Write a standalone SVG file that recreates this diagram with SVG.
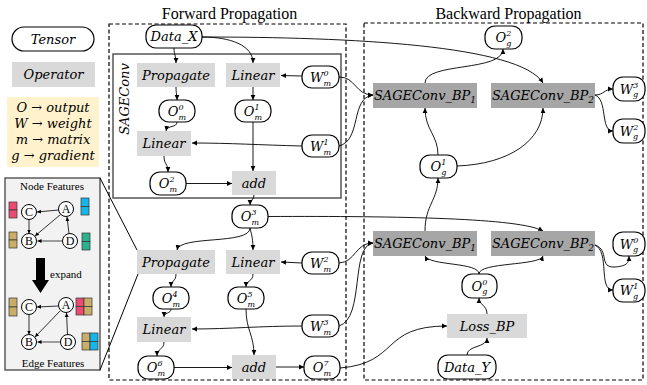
<svg xmlns="http://www.w3.org/2000/svg" width="647" height="385" viewBox="0 0 647 385">
<defs>
<marker id="ar" markerWidth="6" markerHeight="6" refX="5" refY="3" orient="auto" markerUnits="userSpaceOnUse"><path d="M0,0.6 L5,3 L0,5.4z" fill="#000"/></marker>
<marker id="as" markerWidth="5" markerHeight="5" refX="4" refY="2.5" orient="auto" markerUnits="userSpaceOnUse"><path d="M0,0.5 L4,2.5 L0,4.5z" fill="#000"/></marker>
</defs>
<style>
.tn{fill:#fff;stroke:#000;stroke-width:1.2}
.op{fill:#d9d9d9}
.bp{fill:#a6a6a6}
.m{font-family:"DejaVu Serif",serif;font-style:italic;font-size:13px;text-anchor:middle;fill:#000}
.s{font-size:8px}
.c{fill:none;stroke:#000;stroke-width:0.9;marker-end:url(#ar)}
.ttl{font-family:"Liberation Serif",serif;font-size:16px;text-anchor:middle}
.g{fill:none;stroke:#000;stroke-width:0.8;marker-end:url(#as)}
.cir{fill:#fff;stroke:#000;stroke-width:1}
.lt{font-family:"Liberation Serif",serif;font-size:11px;text-anchor:middle}
.ct{font-family:"Liberation Serif",serif;font-size:12px;text-anchor:middle}
.box{fill:none;stroke:#000;stroke-width:1.2;stroke-dasharray:4 2.5}
</style>

<!-- Legend -->
<g id="legend">
<rect x="12" y="27" width="82" height="24" rx="12" class="tn"/>
<text class="m" x="53" y="43.5" font-size="12">Tensor</text>
<rect x="12" y="62" width="83" height="25" class="op"/>
<text class="m" x="53.5" y="79">Operator</text>
<rect x="7" y="97" width="92" height="70" fill="#fff2cc"/>
<text class="m" x="53" y="112" font-size="12">O → output</text>
<text class="m" x="53" y="128" font-size="12">W  → weight</text>
<text class="m" x="53" y="144" font-size="12">m → matrix</text>
<text class="m" x="53" y="160" font-size="12">g → gradient</text>
</g>

<!-- Node features illustration -->
<g id="features">
<rect x="5" y="178" width="95" height="192" fill="#f2f2f2" stroke="#444" stroke-width="1.3"/>
<line x1="100" y1="178" x2="137" y2="250" stroke="#000" stroke-width="1"/>
<line x1="138" y1="274" x2="100" y2="370" stroke="#000" stroke-width="1"/>
<text class="lt" x="52" y="190">Node Features</text>
<text class="lt" x="53" y="367">Edge Features</text>
<text class="lt" x="66" y="278">expand</text>
<polygon points="36,258 45,258 45,280 49,280 40.5,293 32,280 36,280" fill="#000"/>
<path class="g" d="M58.5,210 L37,212"/>
<path class="g" d="M29,219.5 L29,233.5"/>
<path class="g" d="M60.5,214.5 L35,236"/>
<path d="M62.5,241 L37.5,241" fill="none" stroke="#888" stroke-width="1.6" marker-end="url(#as)"/>
<path class="g" d="M69,233.5 L67,217"/>
<circle cx="29" cy="212" r="7.5" class="cir"/><text class="ct" x="29" y="216.2">C</text>
<circle cx="66" cy="209" r="7.5" class="cir"/><text class="ct" x="66" y="213.2">A</text>
<circle cx="29" cy="241" r="7.5" class="cir"/><text class="ct" x="29" y="245.2">B</text>
<circle cx="70" cy="241" r="7.5" class="cir"/><text class="ct" x="70" y="245.2">D</text>
<rect x="9" y="202" width="8" height="8" fill="#ea4c74" stroke="#333" stroke-width="0.7"/>
<rect x="9" y="210" width="8" height="8" fill="#ea4c74" stroke="#333" stroke-width="0.7"/>
<rect x="81" y="198" width="8" height="8.5" fill="#17b6e8" stroke="#333" stroke-width="0.7"/>
<rect x="81" y="206.5" width="8" height="8.5" fill="#17b6e8" stroke="#333" stroke-width="0.7"/>
<rect x="9" y="232" width="8" height="8" fill="#c9ad68" stroke="#333" stroke-width="0.7"/>
<rect x="9" y="240" width="8" height="8" fill="#c9ad68" stroke="#333" stroke-width="0.7"/>
<rect x="82" y="233" width="8" height="8.5" fill="#2db28e" stroke="#333" stroke-width="0.7"/>
<rect x="82" y="241.5" width="8" height="8.5" fill="#2db28e" stroke="#333" stroke-width="0.7"/>
<path class="g" d="M58.5,306 L37,307"/>
<path class="g" d="M29,314.5 L29,334.5"/>
<path class="g" d="M60.5,310.5 L35,337"/>
<path d="M60.5,342 L37.5,342" fill="none" stroke="#888" stroke-width="1.6" marker-end="url(#as)"/>
<path class="g" d="M67.5,334.5 L66.5,313"/>
<circle cx="29" cy="307" r="7.5" class="cir"/><text class="ct" x="29" y="311.2">C</text>
<circle cx="66" cy="305" r="7.5" class="cir"/><text class="ct" x="66" y="309.2">A</text>
<circle cx="29" cy="342" r="7.5" class="cir"/><text class="ct" x="29" y="346.2">B</text>
<circle cx="68" cy="342" r="7.5" class="cir"/><text class="ct" x="68" y="346.2">D</text>
<rect x="9" y="298" width="8" height="9" fill="#c9ad68" stroke="#333" stroke-width="0.7"/>
<rect x="9" y="307" width="8" height="9" fill="#c9ad68" stroke="#333" stroke-width="0.7"/>
<rect x="76" y="298" width="8" height="8.5" fill="#ea4c74" stroke="#333" stroke-width="0.7"/>
<rect x="84" y="298" width="8" height="8.5" fill="#c9ad68" stroke="#333" stroke-width="0.7"/>
<rect x="76" y="306.5" width="8" height="8.5" fill="#ea4c74" stroke="#333" stroke-width="0.7"/>
<rect x="84" y="306.5" width="8" height="8.5" fill="#c9ad68" stroke="#333" stroke-width="0.7"/>
<rect x="82" y="333" width="8" height="8.5" fill="#c9ad68" stroke="#333" stroke-width="0.7"/>
<rect x="90" y="333" width="8" height="8.5" fill="#17b6e8" stroke="#333" stroke-width="0.7"/>
<rect x="82" y="341.5" width="8" height="8.5" fill="#c9ad68" stroke="#333" stroke-width="0.7"/>
<rect x="90" y="341.5" width="8" height="8.5" fill="#17b6e8" stroke="#333" stroke-width="0.7"/>
</g>

<!-- Frames -->
<g id="frames">
<text class="ttl" x="229.5" y="19">Forward Propagation</text>
<text class="ttl" x="508.5" y="19">Backward Propagation</text>
<rect x="109" y="24" width="237" height="356" class="box"/>
<rect x="364" y="23" width="279" height="357" class="box"/>
<rect x="113" y="54" width="228" height="144" fill="none" stroke="#555" stroke-width="1.5"/>
<text class="m" font-size="13.5" transform="translate(129,99) rotate(-90)">SAGEConv</text>
</g>

<!-- Connectors -->
<g id="connectors">
<path class="c" d="M174,48 C174,55 176,55 176,63"/>
<path class="c" d="M202,37 C230,37 253,45 253,63"/>
<path class="c" stroke="#333" d="M202,37 C350,37 520,45 543,83"/>
<path class="c" d="M176,87 C176,94 177,94 177,100"/>
<path class="c" d="M253,87 L253,100"/>
<path class="c" d="M302,76 L281,75.5"/>
<path class="c" d="M177,122 C177,128 167,125 166,131"/>
<path class="c" d="M253,122 L253,171"/>
<path class="c" d="M302,146 C260,145 230,143 192,143"/>
<path class="c" d="M164,156 C164,165 168,163 168,172"/>
<path class="c" d="M186,183.5 L232,183.5"/>
<path class="c" d="M254,195 C254,200 250,200 250,205"/>
<path class="c" stroke="#444" d="M268,216.5 C400,216 520,218 543,231"/>
<path class="c" d="M250,228 C250,245 180,235 177,250"/>
<path class="c" d="M250,228 C252,236 253,240 253,250"/>
<path class="c" d="M302,263 L281,262"/>
<path class="c" d="M176,274 C176,282 171,280 171,287"/>
<path class="c" d="M253,274 C253,282 246,280 246,287"/>
<path class="c" d="M171,309 C171,314 164,312 164,317"/>
<path class="c" d="M302,326 C260,326 230,329 192,329"/>
<path class="c" d="M164,342 C164,350 157,348 157,356"/>
<path class="c" d="M174,367.5 L232,367.5"/>
<path class="c" d="M246,309 C246,330 254,335 254,355"/>
<path class="c" d="M276,367 L304,367"/>
<path class="c" d="M340,368 C400,363 380,326 447,326"/>
<path class="c" d="M339,77 C356,77 355,95 373,95"/>
<path class="c" d="M339,146 C362,140 350,98 373,95"/>
<path class="c" d="M339,263 C356,262 355,243 373,243"/>
<path class="c" d="M339,326 C365,318 350,246 373,243"/>
<path class="c" d="M425,83 C425,62 503,72 503,49"/>
<path class="c" d="M438,155 C438,135 425,130 425,108"/>
<path class="c" d="M457,166 C510,164 543,140 543,108"/>
<path class="c" d="M595,95 C604,95 604,89 613,89"/>
<path class="c" d="M595,95 C608,100 600,131 613,131"/>
<path class="c" d="M425,231 C425,205 438,200 438,178"/>
<path class="c" d="M479,274 C479,262 430,266 425,256"/>
<path class="c" d="M479,274 C479,262 540,266 543,256"/>
<path class="c" d="M595,245 C610,250 598,268 615,267 C628,266 629,262 629,256"/>
<path class="c" d="M595,245 C610,252 598,290 613,290"/>
<path class="c" d="M487,314 C487,305 479,305 479,298"/>
<path class="c" d="M467,355 C467,345 487,348 487,338"/>
</g>

<!-- Forward nodes -->
<g id="data_x"><rect x="146" y="25" width="56" height="23" rx="10" class="tn"/><text class="m" x="174" y="41" font-size="12.5">Data_X</text></g>
<g id="propagate1"><rect x="137" y="63" width="78" height="24" class="op"/><text class="m" x="176" y="79.5">Propagate</text></g>
<g id="linear1"><rect x="226" y="63" width="54" height="24" class="op"/><text class="m" x="253" y="79.5">Linear</text></g>
<g id="w_m0"><rect x="302" y="66" width="37" height="22" rx="10" class="tn"/><text class="m" x="320.5" y="81.5">W<tspan class="s" dy="-6">0</tspan><tspan class="s" dx="-5.1" dy="10">m</tspan></text></g>
<g id="o_m0"><rect x="159" y="100" width="36" height="22" rx="10" class="tn"/><text class="m" x="177" y="115.5">O<tspan class="s" dy="-6">0</tspan><tspan class="s" dx="-5.1" dy="10">m</tspan></text></g>
<g id="o_m1"><rect x="235" y="100" width="36" height="22" rx="10" class="tn"/><text class="m" x="253" y="115.5">O<tspan class="s" dy="-6">1</tspan><tspan class="s" dx="-5.1" dy="10">m</tspan></text></g>
<g id="linear2"><rect x="137" y="131" width="54" height="25" class="op"/><text class="m" x="164" y="148">Linear</text></g>
<g id="w_m1"><rect x="302" y="135" width="37" height="22" rx="10" class="tn"/><text class="m" x="320.5" y="150.5">W<tspan class="s" dy="-6">1</tspan><tspan class="s" dx="-5.1" dy="10">m</tspan></text></g>
<g id="o_m2"><rect x="150" y="172" width="36" height="23" rx="10" class="tn"/><text class="m" x="168" y="188">O<tspan class="s" dy="-6">2</tspan><tspan class="s" dx="-5.1" dy="10">m</tspan></text></g>
<g id="add1"><rect x="232" y="171" width="44" height="24" class="op"/><text class="m" x="254" y="187.5">add</text></g>
<g id="o_m3"><rect x="232" y="205" width="36" height="23" rx="10" class="tn"/><text class="m" x="250" y="221">O<tspan class="s" dy="-6">3</tspan><tspan class="s" dx="-5.1" dy="10">m</tspan></text></g>
<g id="propagate2"><rect x="137" y="250" width="78" height="24" class="op"/><text class="m" x="176" y="266.5">Propagate</text></g>
<g id="linear3"><rect x="226" y="250" width="54" height="24" class="op"/><text class="m" x="253" y="266.5">Linear</text></g>
<g id="w_m2"><rect x="302" y="252" width="37" height="22" rx="10" class="tn"/><text class="m" x="320.5" y="267.5">W<tspan class="s" dy="-6">2</tspan><tspan class="s" dx="-5.1" dy="10">m</tspan></text></g>
<g id="o_m4"><rect x="153" y="287" width="36" height="22" rx="10" class="tn"/><text class="m" x="171" y="302.5">O<tspan class="s" dy="-6">4</tspan><tspan class="s" dx="-5.1" dy="10">m</tspan></text></g>
<g id="o_m5"><rect x="228" y="287" width="36" height="22" rx="10" class="tn"/><text class="m" x="246" y="302.5">O<tspan class="s" dy="-6">5</tspan><tspan class="s" dx="-5.1" dy="10">m</tspan></text></g>
<g id="linear4"><rect x="137" y="317" width="54" height="25" class="op"/><text class="m" x="164" y="334">Linear</text></g>
<g id="w_m3"><rect x="302" y="315" width="37" height="22" rx="10" class="tn"/><text class="m" x="320.5" y="330.5">W<tspan class="s" dy="-6">3</tspan><tspan class="s" dx="-5.1" dy="10">m</tspan></text></g>
<g id="o_m6"><rect x="138" y="356" width="36" height="23" rx="10" class="tn"/><text class="m" x="156" y="372">O<tspan class="s" dy="-6">6</tspan><tspan class="s" dx="-5.1" dy="10">m</tspan></text></g>
<g id="add2"><rect x="232" y="355" width="44" height="24" class="op"/><text class="m" x="254" y="371.5">add</text></g>
<g id="o_m7"><rect x="304" y="356" width="36" height="23" rx="10" class="tn"/><text class="m" x="322" y="372">O<tspan class="s" dy="-6">7</tspan><tspan class="s" dx="-5.1" dy="10">m</tspan></text></g>

<!-- Backward nodes -->
<g id="o_g2"><rect x="485" y="26" width="37" height="23" rx="10" class="tn"/><text class="m" x="503.5" y="42">O<tspan class="s" dy="-6">2</tspan><tspan class="s" dx="-5.1" dy="9.5">g</tspan></text></g>
<g id="bp1a"><rect x="373" y="83" width="104" height="25" class="bp"/><text class="m" x="425" y="100">SAGEConv_BP<tspan font-size="9" dy="3">1</tspan></text></g>
<g id="bp2a"><rect x="491" y="83" width="104" height="25" class="bp"/><text class="m" x="543" y="100">SAGEConv_BP<tspan font-size="9" dy="3">2</tspan></text></g>
<g id="w_g3"><rect x="613" y="77" width="32" height="24" rx="10" class="tn"/><text class="m" x="629" y="93.5">W<tspan class="s" dy="-6">3</tspan><tspan class="s" dx="-5.1" dy="9.5">g</tspan></text></g>
<g id="w_g2"><rect x="613" y="119" width="32" height="24" rx="10" class="tn"/><text class="m" x="629" y="135.5">W<tspan class="s" dy="-6">2</tspan><tspan class="s" dx="-5.1" dy="9.5">g</tspan></text></g>
<g id="o_g1"><rect x="420" y="155" width="37" height="23" rx="10" class="tn"/><text class="m" x="438.5" y="171">O<tspan class="s" dy="-6">1</tspan><tspan class="s" dx="-5.1" dy="9.5">g</tspan></text></g>
<g id="bp1b"><rect x="373" y="231" width="104" height="25" class="bp"/><text class="m" x="425" y="248">SAGEConv_BP<tspan font-size="9" dy="3">1</tspan></text></g>
<g id="bp2b"><rect x="491" y="231" width="104" height="25" class="bp"/><text class="m" x="543" y="248">SAGEConv_BP<tspan font-size="9" dy="3">2</tspan></text></g>
<g id="w_g0"><rect x="613" y="232" width="32" height="24" rx="10" class="tn"/><text class="m" x="629" y="248.5">W<tspan class="s" dy="-6">0</tspan><tspan class="s" dx="-5.1" dy="9.5">g</tspan></text></g>
<g id="w_g1"><rect x="613" y="279" width="32" height="23" rx="10" class="tn"/><text class="m" x="629" y="295">W<tspan class="s" dy="-6">1</tspan><tspan class="s" dx="-5.1" dy="9.5">g</tspan></text></g>
<g id="o_g0"><rect x="462" y="274" width="35" height="24" rx="10" class="tn"/><text class="m" x="479.5" y="290.5">O<tspan class="s" dy="-6">0</tspan><tspan class="s" dx="-5.1" dy="9.5">g</tspan></text></g>
<g id="loss_bp"><rect x="447" y="314" width="80" height="24" class="op"/><text class="m" x="487" y="330.5">Loss_BP</text></g>
<g id="data_y"><rect x="438" y="355" width="58" height="24" rx="10" class="tn"/><text class="m" x="467" y="371.5" font-size="12.5">Data_Y</text></g>
</svg>
